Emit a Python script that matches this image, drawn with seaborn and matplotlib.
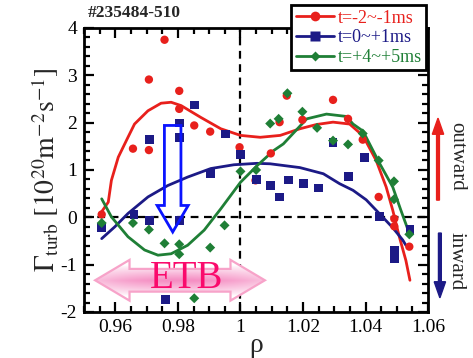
import numpy as np
import pandas as pd
import matplotlib
matplotlib.use("Agg")
import matplotlib.pyplot as plt
import seaborn as sns
from matplotlib.patches import Polygon, FancyArrow
from matplotlib.lines import Line2D
from matplotlib.ticker import MultipleLocator

# ---- measured turbulent particle flux, three time windows ----
red_rho = [0.9556, 0.9656, 0.9707, 0.9707, 0.9757, 0.9804, 0.9804, 0.9852, 0.9903,
           0.9997, 1.0048, 1.0097, 1.0125, 1.0148, 1.0198, 1.0296, 1.0344, 1.0391,
           1.0442, 1.0492, 1.0492, 1.0540]
red_val = [0.06, 1.45, 1.42, 2.91, 3.75, 2.67, 2.29, 1.94, 1.81,
           1.48, 0.78, 1.35, 2.01, 2.57, 2.06, 2.48, 2.08, 1.64,
           0.43, -0.03, -0.19, -0.62]

blue_rho = [0.9556, 0.9659, 0.9709, 0.9709, 0.9759, 0.9806, 0.9806, 0.9806, 0.9854,
            0.9905, 0.9952, 1.0000, 1.0050, 1.0097, 1.0125, 1.0153, 1.0201, 1.0250,
            1.0296, 1.0346, 1.0397, 1.0444, 1.0492, 1.0492, 1.0542]
blue_val = [-0.22, 0.06, 1.64, -0.06, -1.73, 1.99, 1.69, -0.06, 2.37,
            0.92, 1.76, 1.33, 0.80, 0.67, 0.43, 0.79, 0.72, 0.62,
            1.58, 0.86, 1.27, 0.02, -0.70, -0.88, -0.25]

green_rho = [0.9556, 0.9656, 0.9707, 0.9757, 0.9804, 0.9804, 0.9852, 0.9903, 0.9949,
             1.0000, 1.0050, 1.0095, 1.0122, 1.0150, 1.0198, 1.0245, 1.0296, 1.0344,
             1.0391, 1.0442, 1.0491, 1.0491, 1.0540]
green_val = [-0.12, -0.12, -0.26, -0.55, -0.57, -0.78, -1.71, -0.64, -0.17,
             0.97, 1.00, 1.98, 2.08, 2.62, 2.23, 1.89, 1.62, 1.54,
             1.77, 1.20, 0.76, 0.38, -0.36]

# ---- smoothed profiles ----
red_fit_rho = [0.9556, 0.9577, 0.9587, 0.9609, 0.9640, 0.9661, 0.9704, 0.9746, 0.9778,
               0.9810, 0.9873, 0.9937, 1.0000, 1.0063, 1.0127, 1.0190, 1.0243, 1.0296,
               1.0349, 1.0392, 1.0434, 1.0466, 1.0487, 1.0508, 1.0529, 1.0542]
red_fit_val = [0.12, 0.32, 0.78, 1.27, 1.69, 1.97, 2.25, 2.41, 2.43,
               2.36, 2.11, 1.87, 1.73, 1.69, 1.73, 1.87, 1.96, 2.01,
               1.97, 1.72, 1.20, 0.64, 0.15, -0.41, -0.91, -1.33]

blue_fit_rho = [0.9556, 0.9598, 0.9640, 0.9704, 0.9767, 0.9831, 0.9905, 0.9979, 1.0053,
                1.0095, 1.0190, 1.0265, 1.0317, 1.0360, 1.0402, 1.0444, 1.0487, 1.0519,
                1.0529]
blue_fit_val = [-0.45, -0.20, 0.08, 0.43, 0.67, 0.85, 1.03, 1.11, 1.14,
                1.13, 1.05, 0.92, 0.71, 0.57, 0.37, 0.08, -0.22, -0.48,
                -0.59]

green_fit_rho = [0.9556, 0.9587, 0.9640, 0.9693, 0.9736, 0.9778, 0.9831, 0.9884, 0.9937,
                 1.0000, 1.0053, 1.0106, 1.0137, 1.0212, 1.0275, 1.0339, 1.0360, 1.0392,
                 1.0444, 1.0487, 1.0513, 1.0540]
green_fit_val = [0.39, 0.01, -0.41, -0.69, -0.80, -0.77, -0.59, -0.27, 0.18,
                 0.74, 1.09, 1.41, 1.55, 2.08, 2.18, 2.13, 1.97, 1.82,
                 1.15, 0.64, 0.15, -0.34]

labels = ["t=-2~-1ms", "t=0~+1ms", "t=+4~+5ms"]
colors = ["#e8201c", "#1c1a86", "#1f7f36"]
markers = ["o", "s", "D"]
msizes = [36, 40, 26]

sns.set_theme(style="ticks")
plt.rcParams["font.family"] = ["Liberation Serif", "DejaVu Serif"]
plt.rcParams["mathtext.fontset"] = "stix"

fig = plt.figure(figsize=(4.73, 3.58), dpi=100)
ax = fig.add_axes([0.178, 0.1285, 0.727, 0.7935])

# reference lines
ax.axhline(0, color="black", lw=1.6, ls=(0, (3.5, 2.5)), zorder=1)
ax.axvline(1.0, color="black", lw=1.6, ls=(0, (3.5, 2.5)), zorder=1)

point_sets = [(red_rho, red_val), (blue_rho, blue_val), (green_rho, green_val)]
fit_sets = [(red_fit_rho, red_fit_val), (blue_fit_rho, blue_fit_val),
            (green_fit_rho, green_fit_val)]

for (fx, fy), c in zip(fit_sets, colors):
    sns.lineplot(x=fx, y=fy, color=c, lw=2.0, ax=ax, sort=False,
                 estimator=None, zorder=3)

for (px, py), c, m, s in zip(point_sets, colors, markers, msizes):
    sns.scatterplot(x=px, y=py, color=c, marker=m, s=s, edgecolor="none",
                    ax=ax, zorder=4)

# hollow blue arrow marking the flux drop inside the barrier
bx = [0.97566, 0.98095, 0.98095, 0.98327, 0.97832, 0.97333, 0.97566, 0.97566]
by = [1.94, 1.94, 0.25, 0.25, -0.31, 0.25, 0.25, 1.94]
ax.add_patch(Polygon(np.column_stack([bx, by]), closed=True, fill=False,
                     edgecolor="#0a14ff", lw=2.0, zorder=5))

# ETB double arrow with a soft pink fill
xl, xr, yc = 0.9535, 1.0078, -1.33
hl, hh, sh = 0.011, 0.43, 0.24
etb_pts = [(xl, yc), (xl + hl, yc + hh), (xl + hl, yc + sh), (xr - hl, yc + sh),
           (xr - hl, yc + hh), (xr, yc), (xr - hl, yc - hh), (xr - hl, yc - sh),
           (xl + hl, yc - sh), (xl + hl, yc - hh)]
etb_patch = Polygon(etb_pts, closed=True, facecolor="none", edgecolor="#f7a3c9",
                    lw=1.6, zorder=7)
ax.add_patch(etb_patch)
u = np.linspace(-1, 1, 200)
v = np.linspace(-1, 1, 120)
U, V = np.meshgrid(u, v)
g = np.clip(1 - np.abs(V) / 0.75, 0, 1) ** 0.8 * (0.55 + 0.45 * (1 - U ** 2))
rgb_lo = np.array([1.0, 1.0, 1.0])
rgb_hi = np.array([0.96, 0.55, 0.76])
img = rgb_lo[None, None, :] + (rgb_hi - rgb_lo)[None, None, :] * g[:, :, None]
im = ax.imshow(img, extent=[xl, xr, yc - hh, yc + hh], aspect="auto",
               zorder=6, interpolation="bilinear", origin="lower")
im.set_clip_path(etb_patch)
ax.text(0.9826, -1.30, "ETB", color="#fa0a6c", fontsize=28, ha="center",
        va="center", zorder=8)

ax.set_xlim(0.95, 1.06)
ax.set_ylim(-2, 4)
ax.set_xticks([0.96, 0.98, 1.0, 1.02, 1.04, 1.06])
ax.set_xticklabels(["0.96", "0.98", "1", "1.02", "1.04", "1.06"])
ax.set_yticks(range(-2, 5))
ax.set_yticklabels([str(v) for v in range(-2, 5)])
ax.xaxis.set_minor_locator(MultipleLocator(0.005))
ax.yaxis.set_minor_locator(MultipleLocator(0.2))
ax.tick_params(which="both", direction="in", top=True, right=True,
               colors="black", labelsize=14, width=1.6)
ax.tick_params(which="major", length=7, pad=5)
ax.tick_params(which="minor", length=4)
for sp in ax.spines.values():
    sp.set_linewidth(2.0)
    sp.set_color("black")

ax.set_xlabel("ρ", fontsize=20, labelpad=-2)
ax.set_ylabel(r"$\Gamma_{\mathrm{turb}}\ [10^{20}\mathrm{m}^{-2}\mathrm{s}^{-1}]$",
              fontsize=20, labelpad=0)

fig.text(0.186, 0.963, "#235484-510", fontsize=12.5, fontweight="bold",
         ha="left", va="center")

handles = [Line2D([0], [0], color=c, lw=2.0, marker=m, markersize=ms,
                  markeredgecolor="none")
           for c, m, ms in zip(colors, markers, [7, 7, 5.5])]
leg = ax.legend(handles, labels, loc="upper right", bbox_to_anchor=(0.901, 0.986),
                bbox_transform=fig.transFigure, frameon=True, fancybox=False,
                framealpha=1, edgecolor="black", fontsize=13, handlelength=2.1,
                handletextpad=0.2, labelspacing=0.15, borderpad=0.25,
                borderaxespad=0)
leg.get_frame().set_linewidth(2.0)
leg.set_zorder(10)
for t, c in zip(leg.get_texts(), colors):
    t.set_color(c)

# flux direction indicators beside the axes
fig.add_artist(FancyArrow(0.926, 0.441, 0, 0.229, width=0.006, head_width=0.024,
                          head_length=0.045, length_includes_head=True,
                          color="#e8201c", transform=fig.transFigure))
fig.add_artist(FancyArrow(0.930, 0.349, 0, -0.181, width=0.006, head_width=0.024,
                          head_length=0.045, length_includes_head=True,
                          color="#1c1a86", transform=fig.transFigure))
fig.text(0.965, 0.563, "outward", rotation=270, fontsize=15, ha="center",
         va="center")
fig.text(0.965, 0.27, "inward", rotation=270, fontsize=15, ha="center",
         va="center")

fig.savefig("out.png", dpi=100)
